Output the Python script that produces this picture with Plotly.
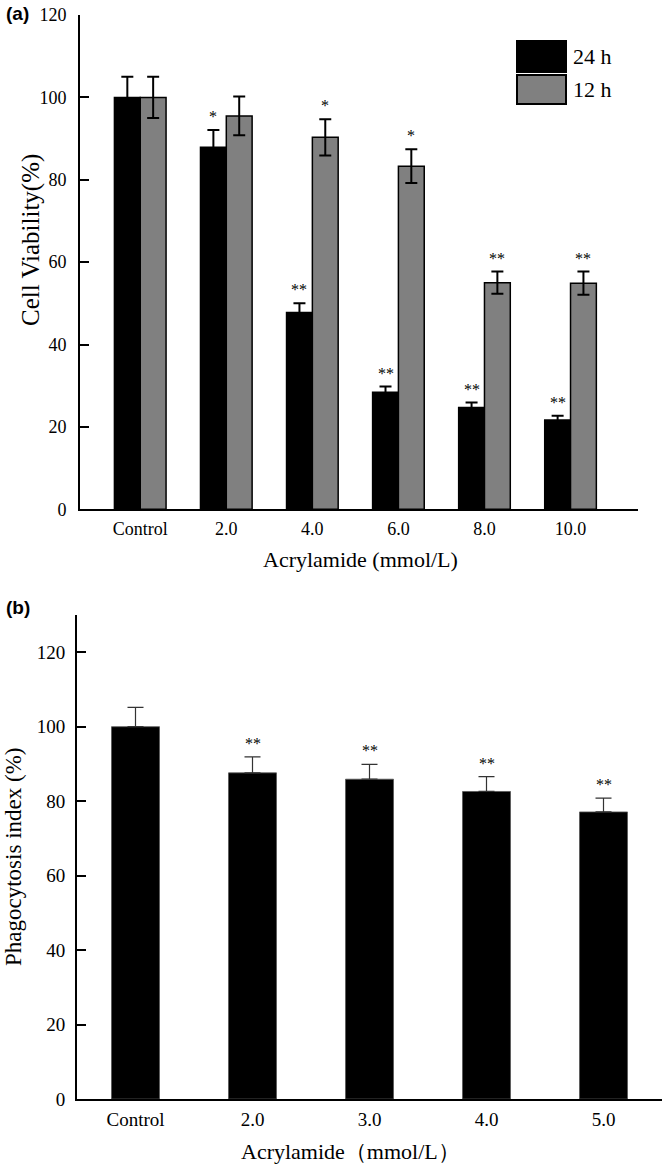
import plotly.graph_objects as go

W, H = 662, 1165

# ---- Data: panel (a)
cats_a = ["Control", "2.0", "4.0", "6.0", "8.0", "10.0"]
series_names = ["24 h", "12 h"]
v24 = [100.0, 87.9, 47.8, 28.4, 24.7, 21.7]
e24 = [5.0, 4.2, 2.2, 1.4, 1.2, 1.0]
v12 = [100.0, 95.5, 90.3, 83.3, 55.0, 54.9]
e12 = [5.0, 4.7, 4.4, 4.1, 2.7, 2.8]
sig24 = ["", "*", "**", "**", "**", "**"]
sig12 = ["", "", "*", "*", "**", "**"]

# ---- Data: panel (b)
cats_b = ["Control", "2.0", "3.0", "4.0", "5.0"]
vb = [100.0, 87.6, 85.9, 82.6, 77.1]
eb = [5.2, 4.3, 4.0, 4.0, 3.7]
sigb = ["", "**", "**", "**", "**"]

SERIF = "Liberation Serif, Times New Roman, serif"
SANS = "Liberation Sans, Arial, sans-serif"
BLACK = "#000000"
GRAY = "#808080"

def px_x(p):
    return p / W

def px_y(p):
    return 1 - p / H

fig = go.Figure()

# panel (a) bars
fig.add_trace(go.Bar(
    x=cats_a, y=v24, name=series_names[0], xaxis="x", yaxis="y",
    marker=dict(color=BLACK, line=dict(color=BLACK, width=1.5)),
    error_y=dict(type="data", array=e24, color=BLACK, thickness=2, width=6),
    showlegend=False,
))
fig.add_trace(go.Bar(
    x=cats_a, y=v12, name=series_names[1], xaxis="x", yaxis="y",
    marker=dict(color=GRAY, line=dict(color=BLACK, width=1.5)),
    error_y=dict(type="data", array=e12, color=BLACK, thickness=2, width=6),
    showlegend=False,
))

# panel (b) bars
fig.add_trace(go.Bar(
    x=cats_b, y=vb, name="Phagocytosis", xaxis="x2", yaxis="y2",
    marker=dict(color=BLACK, line=dict(color="#555555", width=0.8)),
    error_y=dict(type="data", array=eb, arrayminus=[0] * len(eb), symmetric=False,
                 color="#333333", thickness=1.2, width=8),
    showlegend=False, width=0.41,
))

annotations = []
STAR_FONT = dict(family=SERIF, size=16, color=BLACK)

# significance stars (a): offset of grouped bars (category index based)
bar_offset = 0.15
for i in range(len(cats_a)):
    if sig24[i]:
        annotations.append(dict(x=i - bar_offset, y=v24[i] + e24[i], xref="x", yref="y",
                                text=sig24[i], showarrow=False, yanchor="bottom", yshift=3,
                                font=STAR_FONT))
    if sig12[i]:
        annotations.append(dict(x=i + bar_offset, y=v12[i] + e12[i], xref="x", yref="y",
                                text=sig12[i], showarrow=False, yanchor="bottom", yshift=3,
                                font=STAR_FONT))
for i in range(len(cats_b)):
    if sigb[i]:
        annotations.append(dict(x=i, y=vb[i] + eb[i], xref="x2", yref="y2",
                                text=sigb[i], showarrow=False, yanchor="bottom", yshift=3,
                                font=STAR_FONT))

# titles and panel labels
annotations += [
    dict(x=px_x(31), y=px_y(240), xref="paper", yref="paper", text="Cell Viability(%)",
         textangle=-90, showarrow=False, xanchor="center", yanchor="middle",
         font=dict(family=SERIF, size=25, color=BLACK)),
    dict(x=px_x(361), y=px_y(560), xref="paper", yref="paper", text="Acrylamide (mmol/L)",
         showarrow=False, xanchor="center", yanchor="middle",
         font=dict(family=SERIF, size=22, color=BLACK)),
    dict(x=px_x(13), y=px_y(857), xref="paper", yref="paper", text="Phagocytosis index (%)",
         textangle=-90, showarrow=False, xanchor="center", yanchor="middle",
         font=dict(family=SERIF, size=23, color=BLACK)),
    dict(x=px_x(350), y=px_y(1151), xref="paper", yref="paper", text="Acrylamide（mmol/L）",
         showarrow=False, xanchor="center", yanchor="middle",
         font=dict(family=SERIF, size=22, color=BLACK)),
    dict(x=px_x(4), y=px_y(14), xref="paper", yref="paper", text="<b>(a)</b>",
         showarrow=False, xanchor="left", yanchor="middle",
         font=dict(family=SANS, size=19, color=BLACK)),
    dict(x=px_x(4), y=px_y(607), xref="paper", yref="paper", text="<b>(b)</b>",
         showarrow=False, xanchor="left", yanchor="middle",
         font=dict(family=SANS, size=19, color=BLACK)),
]

# manual legend (large boxes)
leg_boxes = [(41, 72, BLACK), (75, 104, GRAY)]
shapes = []
for name, (y0, y1, col) in zip(series_names, leg_boxes):
    shapes.append(dict(type="rect", xref="paper", yref="paper",
                       x0=px_x(517), x1=px_x(566), y0=px_y(y1), y1=px_y(y0),
                       fillcolor=col, line=dict(color=BLACK, width=2)))
    annotations.append(dict(x=px_x(571), y=px_y((y0 + y1) / 2), xref="paper", yref="paper",
                            text=name, showarrow=False, xanchor="left", yanchor="middle",
                            font=dict(family=SERIF, size=22, color=BLACK)))

axis_common = dict(showgrid=False, zeroline=False, showline=True, linecolor=BLACK,
                   linewidth=2, automargin=False)

fig.update_layout(
    width=W, height=H,
    margin=dict(l=0, r=0, t=0, b=0, autoexpand=False),
    paper_bgcolor="white", plot_bgcolor="white",
    barmode="group", bargap=0.4, bargroupgap=0.0,
    xaxis=dict(domain=[px_x(80), px_x(638)], anchor="y", type="category",
               range=[-0.70, 5.784], ticks="", ticklabelstandoff=2,
               tickfont=dict(family=SERIF, size=18, color=BLACK), **axis_common),
    yaxis=dict(domain=[px_y(509.3), px_y(15)], anchor="x", range=[0, 120],
               tickvals=[0, 20, 40, 60, 80, 100, 120], ticks="inside", ticklen=9,
               tickwidth=2, tickcolor=BLACK, ticklabelstandoff=8,
               tickfont=dict(family=SERIF, size=18, color=BLACK), **axis_common),
    xaxis2=dict(domain=[px_x(77), 1.0], anchor="y2", type="category",
                range=[-0.5, 4.5], ticks="", ticklabelstandoff=2,
                tickfont=dict(family=SERIF, size=19, color=BLACK), **axis_common),
    yaxis2=dict(domain=[px_y(1099), px_y(615)], anchor="x2", range=[0, 130],
                tickvals=[0, 20, 40, 60, 80, 100, 120], ticks="inside", ticklen=9,
                tickwidth=2, tickcolor=BLACK, ticklabelstandoff=6,
                tickfont=dict(family=SERIF, size=19, color=BLACK), **axis_common),
    annotations=annotations,
    shapes=shapes,
)

fig.write_html("out.html", config={"displayModeBar": False},
               post_script="document.body.style.margin='0';document.body.style.overflow='hidden';")
